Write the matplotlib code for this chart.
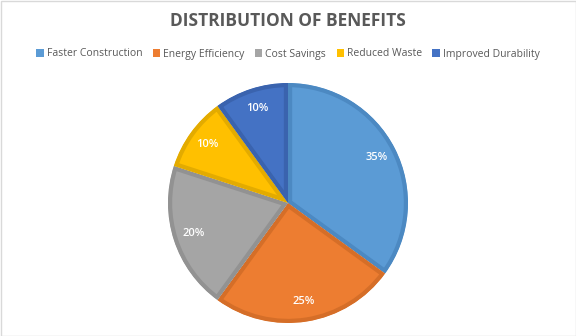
import matplotlib.pyplot as plt
from matplotlib.patches import Rectangle

labels = ['Faster Construction', 'Energy Efficiency', 'Cost Savings', 'Reduced Waste', 'Improved Durability']
shares = [35, 25, 20, 10, 10]
colors = ['#5B9BD5', '#ED7D31', '#A5A5A5', '#FFC000', '#4472C4']
edges = ['#4C89C2', '#D56E28', '#929292', '#E3AB00', '#3A63AE']

plt.rcParams['font.family'] = ['Open Sans', 'DejaVu Sans']

fig = plt.figure(figsize=(5.76, 3.36), dpi=100)
ax = fig.add_axes([0.5 - 120 / 576, 1 - 323 / 336, 240 / 576, 240 / 336])

wedges, _, autotexts = ax.pie(
    shares, colors=colors, startangle=90, counterclock=False,
    autopct='%d%%', pctdistance=0.83, radius=1.0,
    textprops=dict(color='white', fontsize=8, fontweight='semibold'),
)
# darker border kept inside each slice
for w, ec in zip(wedges, edges):
    w.set_edgecolor(ec)
    w.set_linewidth(6)
    w.set_clip_path(w)
    w.set_clip_on(True)
ax.set_xlim(-1, 1)
ax.set_ylim(-1, 1)
ax.set_aspect('equal')

fig.text(0.5, 1 - 21 / 336, 'DISTRIBUTION OF BENEFITS', ha='center', va='center',
         fontsize=12.5, fontweight='bold', color='#595959')

handles = [Rectangle((0, 0), 1, 1, facecolor=c) for c in colors]
fig.legend(handles, labels, loc='center', bbox_to_anchor=(0.5, 1 - 54 / 336), ncol=5,
           frameon=False, fontsize=7.5, handlelength=0.7, handleheight=0.7,
           handletextpad=0.3, columnspacing=1.0, labelcolor='#595959')

fig.patches.append(Rectangle((0.5 / 576, 0.5 / 336), 1 - 1 / 576, 1 - 1 / 336,
                             transform=fig.transFigure, fill=False,
                             edgecolor='#D9D9D9', linewidth=1))

fig.savefig('out.png', dpi=100)
